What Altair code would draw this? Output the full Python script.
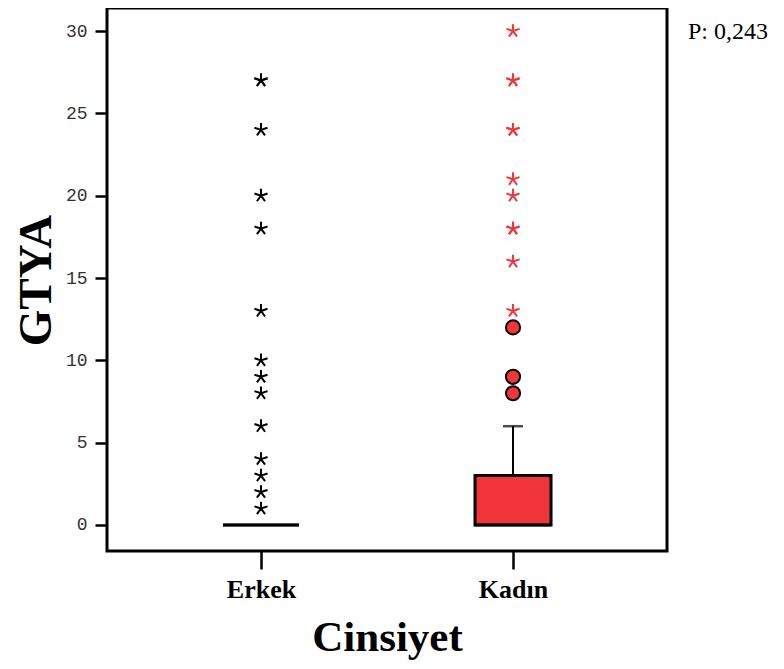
import altair as alt
import pandas as pd

RED = "#F2353A"

groups = ["Erkek", "Kadın"]
q1 = [0, 0]
median = [0, 0]
q3 = [0, 3]
whisker_low = [0, 0]
whisker_high = [0, 6]

erkek_stars = [1, 2, 3, 4, 6, 8, 9, 10, 13, 18, 20, 24, 27, 27]
kadin_stars = [13, 16, 18, 18, 20, 21, 24, 24, 27, 27, 30]
kadin_circles = [8, 9, 12]

p_text = "P: 0,243"

box_df = pd.DataFrame({"g": groups, "q1": q1, "median": median, "q3": q3,
                       "lo": whisker_low, "hi": whisker_high})
stars_df = pd.DataFrame({"g": ["Erkek"] * len(erkek_stars) + ["Kadın"] * len(kadin_stars),
                         "v": erkek_stars + kadin_stars,
                         "c": ["black"] * len(erkek_stars) + [RED] * len(kadin_stars)})
circ_df = pd.DataFrame({"g": ["Kadın"] * len(kadin_circles), "v": kadin_circles})
txt_df = pd.DataFrame({"t": [p_text]})

xscale = alt.Scale(type="point", domain=groups, padding=0.611)
yscale = alt.Scale(domain=[-1.58, 31.4], nice=False, zero=False)

xenc = alt.X("g:N", scale=xscale, sort=groups,
             axis=alt.Axis(title="Cinsiyet", labelAngle=0, domain=False,
                           tickSize=18, tickWidth=2.5, tickColor="black",
                           labelFont="Liberation Serif", labelFontWeight="bold",
                           labelFontSize=26, labelColor="black", labelPadding=7,
                           titleFont="Liberation Serif", titleFontWeight="bold",
                           titleFontSize=43, titleColor="black",
                           titleY=99, titleBaseline="alphabetic"))

yaxis = alt.Axis(title="GTYA", values=[0, 5, 10, 15, 20, 25, 30], domain=False,
                 grid=False, tickSize=12, tickWidth=2.5, tickColor="black",
                 labelFont="Liberation Mono", labelFontSize=18, labelColor="#333333",
                 labelPadding=8,
                 titleFont="Liberation Serif", titleFontWeight="bold",
                 titleFontSize=47, titleColor="black",
                 titleX=-57, titleY=272, titleBaseline="alphabetic")

box = alt.Chart(box_df).mark_bar(size=76, fill=RED, stroke="black", strokeWidth=3).encode(
    x=xenc,
    y=alt.Y("q1:Q", scale=yscale, axis=yaxis),
    y2="q3:Q",
)

whisk = alt.Chart(box_df).mark_rule(color="black", strokeWidth=2).encode(
    x=alt.X("g:N", scale=xscale, sort=groups),
    y=alt.Y("q3:Q", scale=yscale),
    y2="hi:Q",
)

cap = alt.Chart(box_df.iloc[[1]]).mark_tick(color="black", size=20, thickness=2.5,
                                             orient="horizontal").encode(
    x=alt.X("g:N", scale=xscale, sort=groups),
    y=alt.Y("hi:Q", scale=yscale),
)

med = alt.Chart(box_df).mark_tick(color="black", size=76, thickness=3,
                                   orient="horizontal").encode(
    x=alt.X("g:N", scale=xscale, sort=groups),
    y=alt.Y("median:Q", scale=yscale),
)

star_path = ("M0,-1L0,0M0.951,-0.309L0,0M0.588,0.809L0,0"
             "M-0.588,0.809L0,0M-0.951,-0.309L0,0")

stars = alt.Chart(stars_df).mark_point(shape=star_path, size=190, filled=False,
                                       strokeWidth=2, opacity=1).encode(
    x=alt.X("g:N", scale=xscale, sort=groups),
    y=alt.Y("v:Q", scale=yscale),
    stroke=alt.Stroke("c:N", scale=None),
)

circles = alt.Chart(circ_df).mark_point(shape="circle", size=200, filled=True,
                                        fill=RED, stroke="black", strokeWidth=2,
                                        opacity=1).encode(
    x=alt.X("g:N", scale=xscale, sort=groups),
    y=alt.Y("v:Q", scale=yscale),
)

ptext = alt.Chart(txt_df).mark_text(font="Liberation Serif", fontSize=24,
                                    align="left", baseline="alphabetic",
                                    color="black").encode(
    text="t:N",
    x=alt.value(581),
    y=alt.value(31),
)

chart = alt.layer(box, whisk, cap, med, stars, circles, ptext).properties(
    width=560, height=543,
    background="white",
    autosize=alt.AutoSizeParams(type="none"),
    padding={"left": 99, "top": 0, "right": 109, "bottom": 110},
).configure_view(stroke="black", strokeWidth=3, fill="white")

chart.save("out.html", embed_options={"renderer": "svg", "actions": False})
